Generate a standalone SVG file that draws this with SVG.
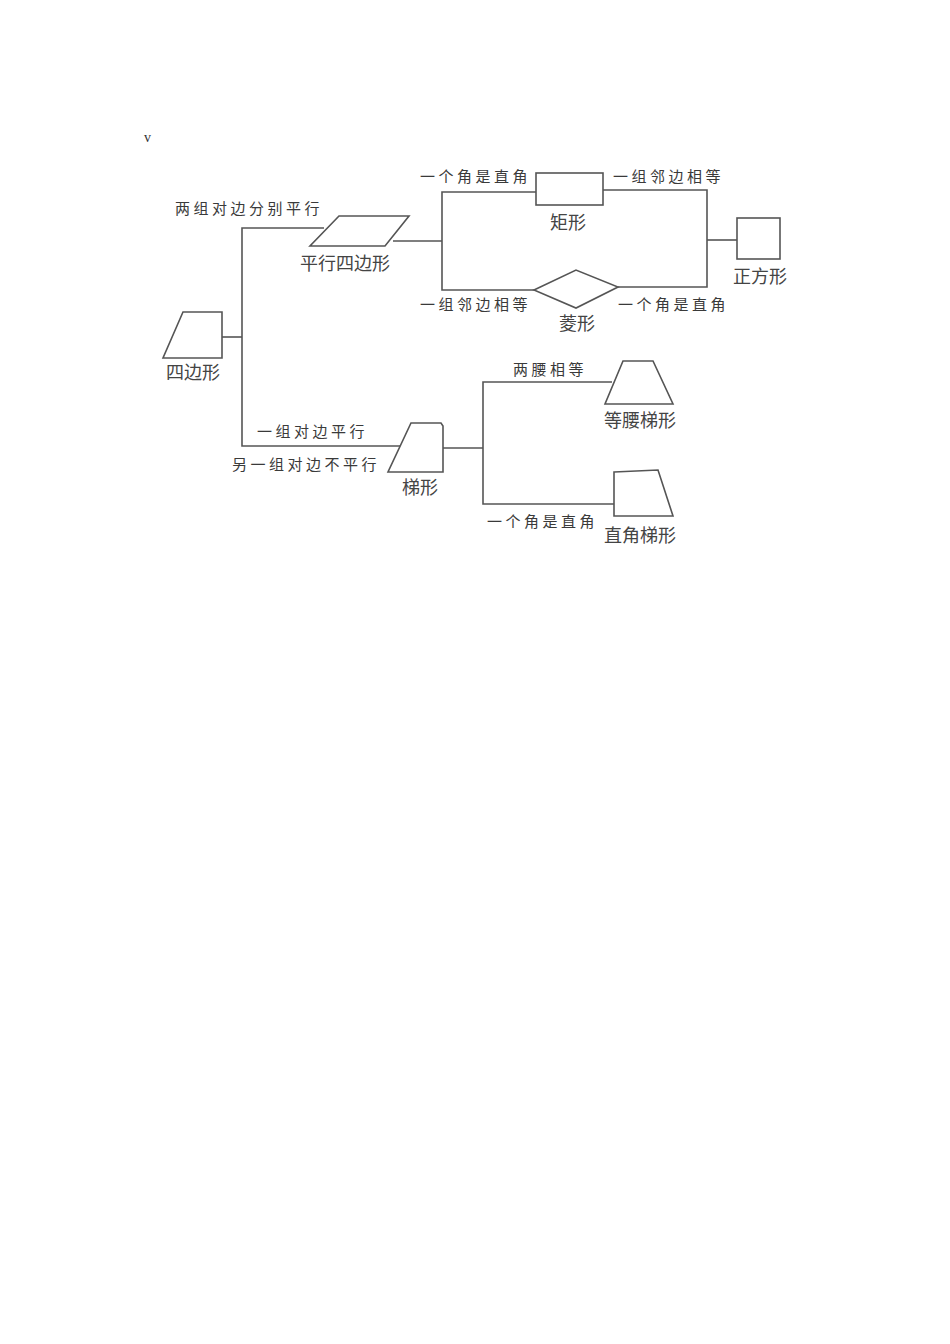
<svg xmlns="http://www.w3.org/2000/svg" width="950" height="1344" viewBox="0 0 950 1344">
<style>
.ln{fill:none;stroke:#555;stroke-width:1.6;stroke-linejoin:miter}
.sh{fill:#fff;stroke:#555;stroke-width:1.6;stroke-linejoin:miter}
.lb{font-family:"Noto Sans CJK SC","Noto Sans",sans-serif;font-size:15px;fill:#3a3a3a;letter-spacing:3.5px}
.nm{font-family:"Noto Sans CJK SC","Noto Sans",sans-serif;font-size:18px;fill:#444;text-anchor:middle}
</style>
<rect width="950" height="1344" fill="#fff"/>
<text x="144" y="142" font-family="Liberation Serif,serif" font-size="14" fill="#333">v</text>
<g id="connectors">
<polyline class="ln" points="324,228 242,228 242,446 400,446"/>
<line class="ln" x1="222" y1="337" x2="242" y2="337"/>
<line class="ln" x1="393" y1="241" x2="442" y2="241"/>
<polyline class="ln" points="536,192 442,192 442,290 534,290"/>
<polyline class="ln" points="603,190 707,190 707,287 618,287"/>
<line class="ln" x1="707" y1="240" x2="737" y2="240"/>
<line class="ln" x1="443" y1="448" x2="483" y2="448"/>
<polyline class="ln" points="612,382 483,382 483,504 614,504"/>
</g>
<g id="quadrilateral">
<polygon class="sh" points="183,312 222,312 222,358 163,358"/>
<text class="nm" x="193" y="379">四边形</text>
</g>
<g id="parallelogram">
<polygon class="sh" points="339,216 409,216 385,246 310,246"/>
<text class="nm" x="345" y="270">平行四边形</text>
</g>
<g id="rectangle">
<rect class="sh" x="536" y="173" width="67" height="32"/>
<text class="nm" x="568" y="229">矩形</text>
</g>
<g id="rhombus">
<polygon class="sh" points="534,290 576,270 618,287 576,308"/>
<text class="nm" x="577" y="330">菱形</text>
</g>
<g id="square">
<rect class="sh" x="737" y="218" width="43" height="41"/>
<text class="nm" x="760" y="283">正方形</text>
</g>
<g id="trapezoid">
<polygon class="sh" points="411,423 441,423 443,426 443,472 388,472"/>
<text class="nm" x="420" y="494">梯形</text>
</g>
<g id="isosceles-trapezoid">
<polygon class="sh" points="623,361 653,361 673,404 605,404"/>
<text class="nm" x="640" y="427">等腰梯形</text>
</g>
<g id="right-trapezoid">
<polygon class="sh" points="614,472 658,470 673,516 614,516"/>
<text class="nm" x="640" y="542">直角梯形</text>
</g>
<g id="labels">
<text class="lb" x="175" y="214">两组对边分别平行</text>
<text class="lb" x="420" y="182">一个角是直角</text>
<text class="lb" x="613" y="182">一组邻边相等</text>
<text class="lb" x="420" y="310">一组邻边相等</text>
<text class="lb" x="618" y="310">一个角是直角</text>
<text class="lb" x="257" y="437">一组对边平行</text>
<text class="lb" x="232" y="470">另一组对边不平行</text>
<text class="lb" x="513" y="375">两腰相等</text>
<text class="lb" x="487" y="527">一个角是直角</text>
</g>
</svg>
